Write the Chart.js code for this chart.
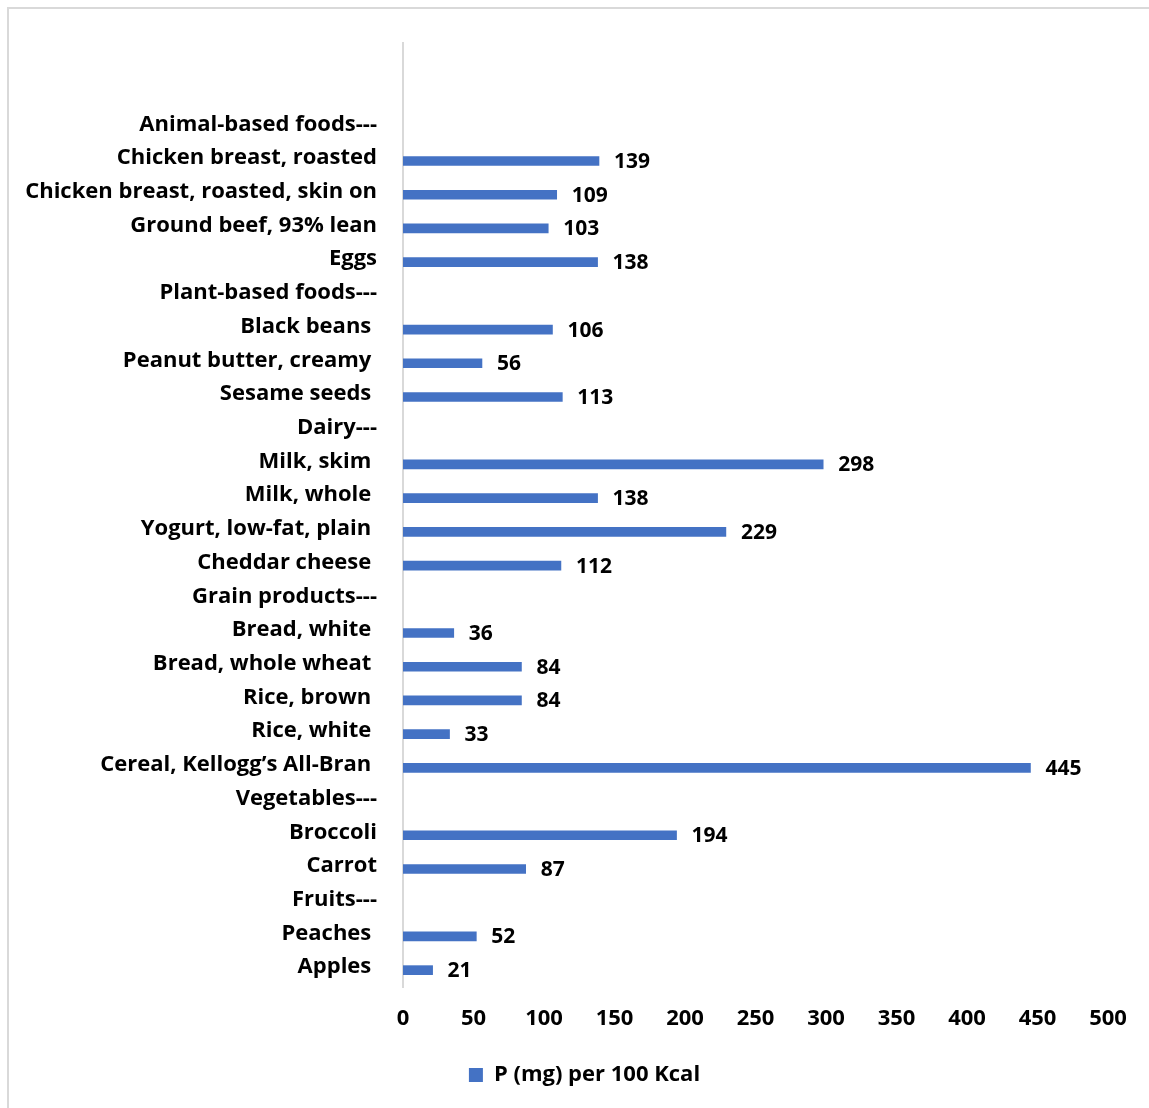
<!DOCTYPE html>
<html>
<head>
<meta charset="utf-8">
<script src="https://cdn.jsdelivr.net/npm/chart.js@4/dist/chart.umd.min.js"></script>
<style>
  html, body { margin: 0; padding: 0; background: #ffffff; overflow: hidden; }
  #frame {
    position: absolute; left: 7px; top: 7px; width: 1300px; height: 1300px;
    border: 2px solid #d9d9d9; box-sizing: border-box;
  }
  #chart { position: absolute; left: 0; top: 0; }
</style>
</head>
<body>
<div id="frame"></div>
<canvas id="chart" width="1149" height="1108"></canvas>
<script>
// Food groups and items (group headers end with "---"; two blank rows sit on top)
const categories = [
  "", "",
  "Animal-based foods---",
  "Chicken breast, roasted",
  "Chicken breast, roasted, skin on",
  "Ground beef, 93% lean",
  "Eggs",
  "Plant-based foods---",
  "Black beans ",
  "Peanut butter, creamy ",
  "Sesame seeds ",
  "Dairy---",
  "Milk, skim ",
  "Milk, whole ",
  "Yogurt, low-fat, plain ",
  "Cheddar cheese ",
  "Grain products---",
  "Bread, white ",
  "Bread, whole wheat ",
  "Rice, brown ",
  "Rice, white ",
  "Cereal, Kellogg\u2019s All-Bran ",
  "Vegetables---",
  "Broccoli",
  "Carrot",
  "Fruits---",
  "Peaches ",
  "Apples "
];

// Phosphorus content, mg per 100 kcal
const phosphorus = [
  null, null,
  null, 139, 109, 103, 138,
  null, 106, 56, 113,
  null, 298, 138, 229, 112,
  null, 36, 84, 84, 33, 445,
  null, 194, 87,
  null, 52, 21
];

const seriesLabel = "P (mg) per 100 Kcal";
const xTicks = [0, 50, 100, 150, 200, 250, 300, 350, 400, 450, 500];

const FONT = "'Open Sans', Lato, sans-serif";

// Writes each bar's value just past its end
const valueLabels = {
  id: "valueLabels",
  afterDatasetsDraw(chart) {
    const ctx = chart.ctx;
    const meta = chart.getDatasetMeta(0);
    const vals = chart.data.datasets[0].data;
    ctx.save();
    ctx.font = "bold 21px " + FONT;
    ctx.fillStyle = "#000000";
    ctx.textAlign = "left";
    ctx.textBaseline = "middle";
    meta.data.forEach((bar, i) => {
      const v = vals[i];
      if (v === null || v === undefined) return;
      ctx.fillText(String(v), bar.x + 15, bar.y + 1);
    });
    ctx.restore();
  }
};

new Chart(document.getElementById("chart"), {
  type: "bar",
  data: {
    labels: categories,
    datasets: [{
      label: seriesLabel,
      data: phosphorus,
      backgroundColor: "#4472c4",
      borderWidth: 0,
      barThickness: 9
    }]
  },
  options: {
    indexAxis: "y",
    responsive: false,
    animation: false,
    devicePixelRatio: 1,
    layout: { padding: { top: 43, right: 0, left: 20, bottom: 12 } },
    plugins: {
      legend: {
        position: "bottom",
        labels: {
          color: "#000000",
          font: { family: FONT, size: 22, weight: "bold" },
          boxWidth: 14,
          boxHeight: 14,
          padding: 8
        }
      },
      tooltip: { enabled: false }
    },
    scales: {
      x: {
        min: 0,
        max: 500,
        afterBuildTicks(scale) { scale.ticks = xTicks.map(v => ({ value: v })); },
        afterFit(scale) { scale.height = 69; },
        grid: { display: false, drawTicks: false },
        border: { display: false },
        ticks: {
          color: "#000000",
          font: { family: FONT, size: 22, weight: "bold" },
          padding: 19,
          maxRotation: 0
        }
      },
      y: {
        afterFit(scale) { scale.width = 383; },
        grid: { display: false, drawTicks: false },
        border: { display: true, color: "#d9d9d9", width: 2 },
        ticks: {
          color: "#000000",
          font: { family: FONT, size: 22, weight: "bold" },
          padding: 26,
          labelOffset: -3,
          autoSkip: false
        }
      },
      // empty right-hand margin strip
      yRight: {
        type: "category",
        position: "right",
        afterFit(scale) { scale.width = 41; },
        grid: { display: false, drawTicks: false },
        border: { display: false },
        ticks: { display: false }
      }
    }
  },
  plugins: [valueLabels]
});
</script>
</body>
</html>
